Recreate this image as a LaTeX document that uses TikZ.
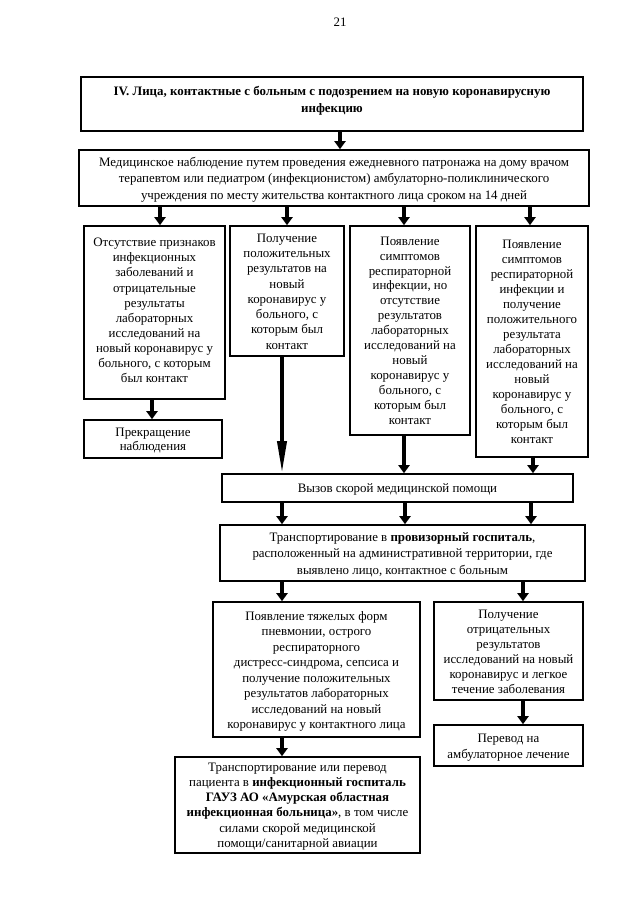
\documentclass[tikz,border=0pt]{standalone}
\usepackage{fontspec}
\setmainfont{Liberation Serif}
\usetikzlibrary{arrows.meta}
\newcommand\mybox[8]{%
  \node[box, minimum width=#4pt, minimum height=#5pt] (#1) at (#2,#3) {};
  \node[txt, font=\fontsize{12.9}{#7}\selectfont] (#1-t) at (#2,#3+#6) {#8};}
\begin{document}
\begin{tikzpicture}[x=1pt,y=-1pt,
  box/.style={draw, line width=1.6pt, inner sep=0pt},
  txt/.style={inner sep=0pt, align=center},
  arr/.style={line width=3.6pt, -{Triangle[width=11pt,length=8pt]}},
  longarr/.style={line width=3.6pt, -{Triangle[width=9pt,length=32pt]}}]
\useasboundingbox[fill=white] (0,0) rectangle (640,905);
\node[txt, font=\fontsize{12.9}{14.9}\selectfont] (pg) at (340,22) {21};
% header
\node[box, minimum width=502pt, minimum height=54pt] (h) at (332,104) {};
\node[txt, font=\fontsize{12.9}{17.5}\selectfont\bfseries] (ht) at (332,101) {IV. Лица, контактные с больным с подозрением на новую коронавирусную\\инфекцию};
% observation
\mybox{m}{334}{178}{510}{56}{1.5}{16.3}{Медицинское наблюдение путем проведения ежедневного патронажа на дому врачом\\терапевтом или педиатром (инфекционистом) амбулаторно-поликлинического\\учреждения по месту жительства контактного лица сроком на 14 дней}
% four boxes
\mybox{A}{154.5}{312.5}{141}{173}{-2}{15.1}{Отсутствие признаков\\инфекционных\\заболеваний и\\отрицательные\\результаты\\лабораторных\\исследований на\\новый коронавирус у\\больного, с которым\\был контакт}
\mybox{B}{287}{291}{114}{130}{0.5}{15.3}{Получение\\положительных\\результатов на\\новый\\коронавирус у\\больного, с\\которым был\\контакт}
\mybox{C}{410}{330.5}{120}{209}{0}{14.9}{Появление\\симптомов\\респираторной\\инфекции, но\\отсутствие\\результатов\\лабораторных\\исследований на\\новый\\коронавирус у\\больного, с\\которым был\\контакт}
\mybox{D}{532}{341.5}{112}{231}{0}{15.0}{Появление\\симптомов\\респираторной\\инфекции и\\получение\\положительного\\результата\\лабораторных\\исследований на\\новый\\коронавирус у\\больного, с\\которым был\\контакт}
\mybox{P}{153}{439}{138}{38}{1.5}{14.9}{Прекращение\\наблюдения}
\mybox{V}{397.5}{488}{351}{28}{1.5}{14.9}{Вызов скорой медицинской помощи}
\mybox{T}{402.5}{553}{365}{56}{1.5}{16.3}{Транспортирование в \textbf{провизорный госпиталь},\\расположенный на административной территории, где\\выявлено лицо, контактное с больным}
\mybox{S}{316.5}{669.5}{207}{135}{2}{15.5}{Появление тяжелых форм\\пневмонии, острого\\респираторного\\дистресс-синдрома, сепсиса и\\получение положительных\\результатов лабораторных\\исследований на новый\\коронавирус у контактного лица}
\mybox{N}{508.5}{651}{149}{98}{1}{14.9}{Получение\\отрицательных\\результатов\\исследований на новый\\коронавирус и легкое\\течение заболевания}
\mybox{R}{508.5}{745.5}{149}{41}{2}{15.5}{Перевод на\\амбулаторное лечение}
\mybox{F}{297.5}{805}{245}{96}{1.5}{15.1}{Транспортирование или перевод\\пациента в \textbf{инфекционный госпиталь}\\\textbf{ГАУЗ АО «Амурская областная}\\\textbf{инфекционная больница»}, в том числе\\силами скорой медицинской\\помощи/санитарной авиации}
% x positions
\coordinate (x340) at (340,0);
\coordinate (x160) at (160,0);
\coordinate (x287) at (287,0);
\coordinate (x404) at (404,0);
\coordinate (x530) at (530,0);
\coordinate (x152) at (152,0);
\coordinate (x282) at (282,0);
\coordinate (x533) at (533,0);
\coordinate (x405) at (405,0);
\coordinate (x531) at (531,0);
\coordinate (x523) at (523,0);
% arrows
\draw[arr] (h.south -| x340) -- (m.north -| x340);
\draw[arr] (m.south -| x160) -- (A.north -| x160);
\draw[arr] (m.south -| x287) -- (B.north -| x287);
\draw[arr] (m.south -| x404) -- (C.north -| x404);
\draw[arr] (m.south -| x530) -- (D.north -| x530);
\draw[arr] (A.south -| x152) -- (P.north -| x152);
\draw[longarr] (B.south -| x282) -- (V.north -| x282);
\draw[arr] (C.south -| x404) -- (V.north -| x404);
\draw[arr] (D.south -| x533) -- (V.north -| x533);
\draw[arr] (V.south -| x282) -- (T.north -| x282);
\draw[arr] (V.south -| x405) -- (T.north -| x405);
\draw[arr] (V.south -| x531) -- (T.north -| x531);
\draw[arr] (T.south -| x282) -- (S.north -| x282);
\draw[arr] (T.south -| x523) -- (N.north -| x523);
\draw[arr] (N.south -| x523) -- (R.north -| x523);
\draw[arr] (S.south -| x282) -- (F.north -| x282);
\end{tikzpicture}
\end{document}
